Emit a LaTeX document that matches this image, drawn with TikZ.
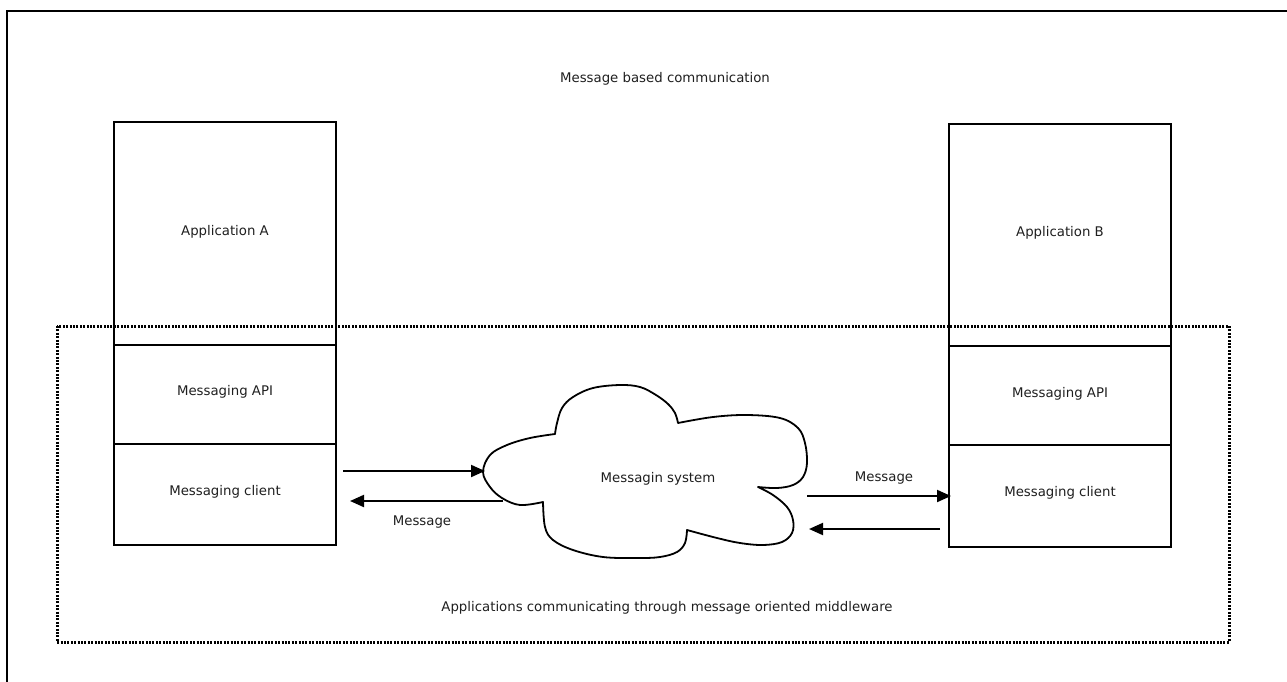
\documentclass[tikz,border=0pt]{standalone}
\usepackage{fontspec}
\setmainfont{DejaVu Sans}
\usetikzlibrary{arrows.meta}
\tikzset{
  label/.style={font=\fontsize{13.3}{15}\selectfont, text=black!88, inner sep=0pt, yshift=-2pt},
  boxline/.style={line width=2pt, draw=black},
  arr/.style={line width=2pt, -{Triangle[length=14pt,width=12pt]}},
  cloudline/.style={line width=1.8pt, line join=round},
  zone/.style={line width=3pt, dash pattern=on 2pt off 1.4pt},
  frame/.style={line width=2.5pt}
}
\begin{document}
\begin{tikzpicture}[x=1pt,y=-1pt]
\useasboundingbox (0,0) rectangle (1287,681);
\begin{scope}
\clip (0,0) rectangle (1287,681);
% outer frame, its right and lower sides run past the page
\draw[frame] (7,11) rectangle (1300,700);
\end{scope}

\node[label] (title) at (665,77) {Message based communication};

% application stacks
\draw[boxline] (114,122) rectangle (336,545);
\draw[boxline] (114,345) -- (336,345);
\draw[boxline] (114,444) -- (336,444);
\node[label] (appA) at (225,230) {Application A};
\node[label] (apiA) at (225,390) {Messaging API};
\node[label] (cliA) at (225,490) {Messaging client};

\draw[boxline] (949,124) rectangle (1171,547);
\draw[boxline] (949,346) -- (1171,346);
\draw[boxline] (949,445) -- (1171,445);
\node[label] (appB) at (1060,231) {Application B};
\node[label] (apiB) at (1060,392) {Messaging API};
\node[label] (cliB) at (1060,491) {Messaging client};

% middleware zone
\draw[zone] (57,326) rectangle (1229,642);
\node[label] (mom) at (667,606) {Applications communicating through message oriented middleware};

% messaging system cloud
\draw[cloudline]
  plot[smooth,tension=0.6] coordinates {(543,502) (520,505) (502,498) (490,487) (483,472) (490,455) (507,445) (530,438) (555,434)}
  -- plot[smooth,tension=0.6] coordinates {(555,434) (557,423) (562,408) (573,397) (593,388) (620,385) (640,387) (656,395) (668,404) (675,413) (678,423)}
  -- plot[smooth,tension=0.6] coordinates {(678,423) (713,417) (747,415) (780,418) (798,428) (805,443) (807,463) (803,477) (793,485) (777,488) (758,487)}
  -- plot[smooth,tension=0.6] coordinates {(758,487) (773,495) (787,507) (793,520) (792,533) (782,542) (763,545) (740,543) (717,538) (687,530)}
  -- plot[smooth,tension=0.6] coordinates {(687,530) (685,543) (677,552) (660,557) (637,558) (603,557) (573,550) (553,540) (545,527) (543,502)}
  -- cycle;
\node[label] (sys) at (658,477) {Messagin system};

% message flows
\coordinate (aOut) at (343,471);
\coordinate (cIn)  at (485,471);
\coordinate (cOutL) at (503,501);
\coordinate (aIn)  at (350,501);
\coordinate (cOutR) at (807,496);
\coordinate (bIn)  at (951,496);
\coordinate (bOut) at (940,529);
\coordinate (cInR) at (809,529);

\draw[arr] (aOut) -- (cIn);
\draw[arr] (cOutL) -- (aIn);
\draw[arr] (cOutR) -- (bIn);
\draw[arr] (bOut) -- (cInR);

\node[label] (msgA) at (422,520) {Message};
\node[label] (msgB) at (884,476) {Message};
\end{tikzpicture}
\end{document}
